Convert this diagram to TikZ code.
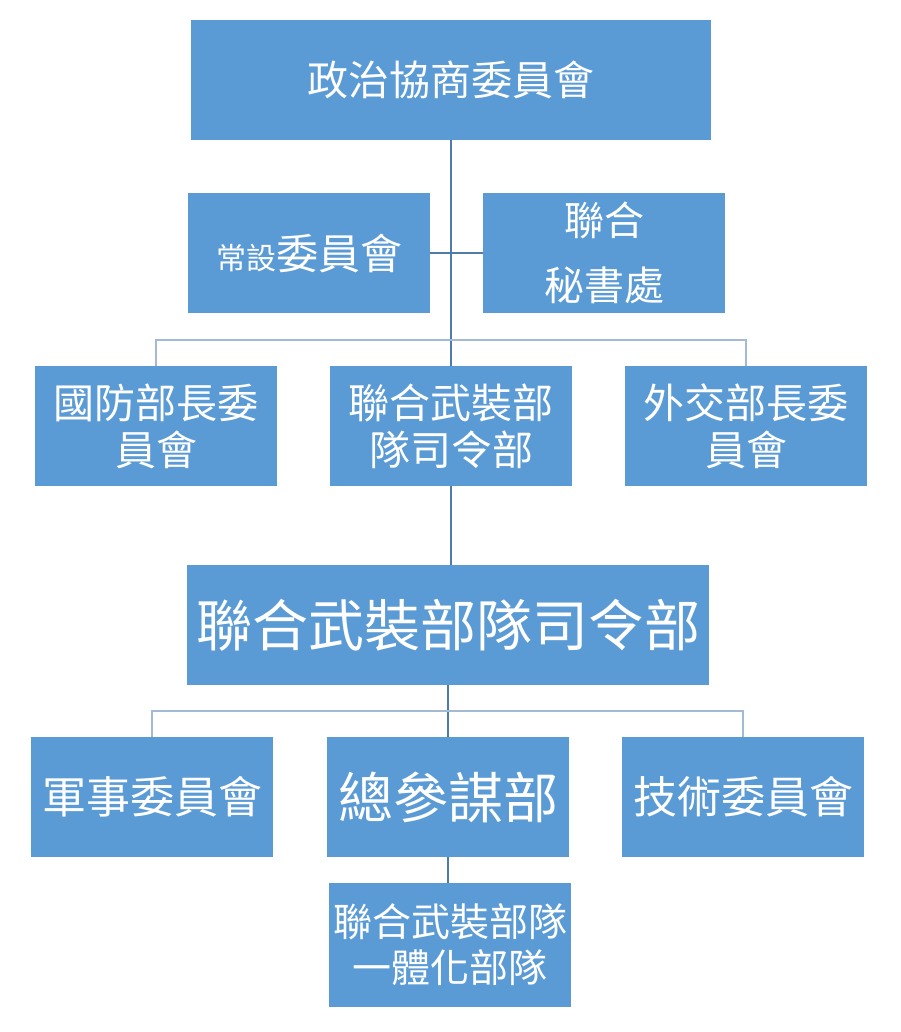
\documentclass[tikz,border=0pt]{standalone}
\usepackage{fontspec}
\setmainfont{Noto Sans CJK TC}
\usetikzlibrary{positioning}
\definecolor{unit}{HTML}{5B9BD5}
\definecolor{spine}{HTML}{4F7BAA}
\definecolor{branch}{HTML}{A2BAD3}
\newcommand{\fs}[2]{\fontsize{#1}{#2}\selectfont}

\begin{document}
\begin{tikzpicture}[x=1pt,y=-1pt,
	unit/.style={fill=unit, text=white, minimum width=242pt, minimum height=120pt, inner sep=0pt, align=center},
	spine/.style={draw=spine, line width=1.5pt},
	branch/.style={draw=branch, line width=1.5pt}]
	\useasboundingbox (0,0) rectangle (900,1032);
	% boxes
	\node (top) at (451,80) [unit, minimum width=520pt, font=\fs{41}{48}] {政治協商委員會};
	\node (standing) at (309,253) [unit, font=\fs{42}{46}] {{\fs{30}{32}常設}委員會};
	\node (secretariat) at (604,253) [unit, font=\fs{40}{65}] {聯合\\秘書處};
	\node (defense) at (156,426) [unit, font=\fs{41}{47}] {國防部長委\\員會};
	\node (command) at (451,426) [unit, font=\fs{41}{47}] {聯合武裝部\\隊司令部};
	\node (foreign) at (746,426) [unit, font=\fs{41}{47}] {外交部長委\\員會};
	\node (hq) at (448,625) [unit, minimum width=522pt, font=\fs{56}{60}] {聯合武裝部隊司令部};
	\node (military) at (152,797) [unit, font=\fs{44}{50}] {軍事委員會};
	\node (staff) at (448,797) [unit, font=\fs{55}{60}] {總參謀部};
	\node (tech) at (743,797) [unit, font=\fs{44}{50}] {技術委員會};
	\node (joint) at (450,945) [unit, minimum height=124pt, font=\fs{39}{46}] {聯合武裝部隊\\一體化部隊};
	% connectors
	\coordinate (fork1) at (top.south |- 0,340);
	\coordinate (fork2) at (hq.south |- 0,711);
	\draw [spine] (top.south) -- (command.north);
	\draw [spine] (standing.east) -- (secretariat.west);
	\draw [branch] (defense.north) |- (fork1) -| (foreign.north);
	\draw [spine] (command.south) -- (command.south |- hq.north);
	\draw [spine] (hq.south) -- (staff.north);
	\draw [branch] (military.north) |- (fork2) -| (tech.north);
	\draw [spine] (staff.south) -- (staff.south |- joint.north);
\end{tikzpicture}
\end{document}
